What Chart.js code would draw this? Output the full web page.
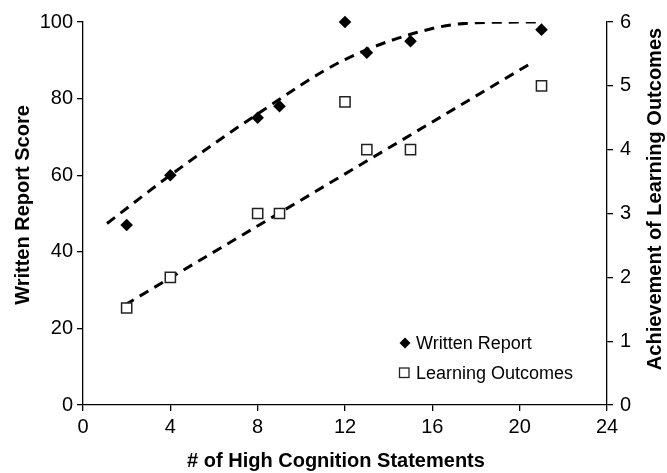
<!DOCTYPE html>
<html>
<head>
<meta charset="utf-8">
<script src="https://cdn.jsdelivr.net/npm/chart.js@4.4.0/dist/chart.umd.min.js"></script>
<style>
html,body{margin:0;padding:0;background:#fff;}
#wrap{width:667px;height:473px;position:relative;}
</style>
</head>
<body>
<div id="wrap"><canvas id="chart"></canvas></div>
<script>
// Values
const statements=[2,4,8,9,12,13,15,21];
const reportScore=[47,60,75,78,100,92,95,98];
const outcomeScore=[1.52,2,3,3,4.75,4,4,5];

// Trendlines, as drawn in the figure
const reportTrendX=[1.1,4,8,12,16,18,21];
const reportTrendY=[47.4,60,76,90.2,98.3,99.8,100];
const outcomeTrendX=[1.93,20.5];
const outcomeTrendY=[1.57,5.35];

// Tick labels
const xTicks=[0,4,8,12,16,20,24];
const leftTicks=[0,20,40,60,80,100];
const rightTicks=[0,1,2,3,4,5,6];
const legendLabels=['Written Report','Learning Outcomes'];
const xTitle='# of High Cognition Statements';
const leftTitle='Written Report Score';
const rightTitle='Achievement of Learning Outcomes';

const FONT='"Liberation Sans", Arial, sans-serif';
Chart.defaults.font.family=FONT;
Chart.defaults.color='#000';

function pts(xs,ys){return xs.map((x,i)=>({x:x,y:ys[i]}));}
function setTicks(list){return scale=>{scale.ticks=list.map(v=>({value:v}));};}

const axisGrid={drawOnChartArea:false,drawTicks:true,tickLength:6,color:'#000',lineWidth:1.3};
const axisBorder={display:true,color:'#000',width:1.3};

// Axis titles + legend inside the plot (drawn by hand so they sit where the figure has them)
const extras={
  id:'extras',
  afterDraw(chart){
    const ctx=chart.ctx;
    ctx.save();
    ctx.fillStyle='#000';
    ctx.textAlign='center';
    ctx.textBaseline='middle';
    ctx.font='bold 20px '+FONT;
    ctx.fillText(xTitle,336,461);
    ctx.save();ctx.translate(23,205);ctx.rotate(-Math.PI/2);ctx.fillText(leftTitle,0,0);ctx.restore();
    ctx.save();ctx.translate(655,199);ctx.rotate(-Math.PI/2);ctx.fillText(rightTitle,0,0);ctx.restore();

    // legend
    ctx.beginPath();
    ctx.moveTo(405,337.5);ctx.lineTo(410.5,343);ctx.lineTo(405,348.5);ctx.lineTo(399.5,343);
    ctx.closePath();ctx.fill();
    ctx.strokeStyle='#222';ctx.lineWidth=1.3;ctx.fillStyle='#fff';
    ctx.fillRect(399.5,368,9.5,9.5);ctx.strokeRect(399.5,368,9.5,9.5);
    ctx.fillStyle='#000';
    ctx.font='18px '+FONT;
    ctx.textAlign='left';
    ctx.fillText(legendLabels[0],416,344);
    ctx.fillText(legendLabels[1],416,374);
    ctx.restore();
  }
};

new Chart(document.getElementById('chart'),{
  type:'scatter',
  data:{
    datasets:[
      {label:legendLabels[0],data:pts(statements,reportScore),yAxisID:'y',clip:false,
       pointStyle:'rectRot',pointRadius:6.3,backgroundColor:'#000',borderColor:'#000',borderWidth:0,order:1},
      {label:legendLabels[1],data:pts(statements,outcomeScore),yAxisID:'y2',clip:false,
       pointStyle:'rect',pointRadius:7.2,backgroundColor:'#fff',borderColor:'#222',borderWidth:1.5,order:1},
      {type:'line',label:'report trend',data:pts(reportTrendX,reportTrendY),yAxisID:'y',
       showLine:true,pointRadius:0,borderColor:'#000',borderWidth:3,borderDash:[10,7],
       cubicInterpolationMode:'monotone',fill:false,order:2},
      {type:'line',label:'outcome trend',data:pts(outcomeTrendX,outcomeTrendY),yAxisID:'y2',
       showLine:true,pointRadius:0,borderColor:'#000',borderWidth:3,borderDash:[10,7],fill:false,order:2}
    ]
  },
  options:{
    responsive:true,
    maintainAspectRatio:false,
    animation:false,
    layout:{padding:{top:22,left:0,right:0,bottom:0}},
    plugins:{legend:{display:false},tooltip:{enabled:false}},
    scales:{
      x:{
        type:'linear',min:0,max:24,
        afterBuildTicks:setTicks(xTicks),
        afterFit:s=>{s.height=68;},
        grid:axisGrid,border:axisBorder,
        ticks:{font:{size:20},padding:4,maxRotation:0}
      },
      y:{
        type:'linear',position:'left',min:0,max:100,
        afterBuildTicks:setTicks(leftTicks),
        afterFit:s=>{s.width=83;},
        grid:axisGrid,border:axisBorder,
        ticks:{font:{size:20},padding:4}
      },
      y2:{
        type:'linear',position:'right',min:0,max:6,
        afterBuildTicks:setTicks(rightTicks),
        afterFit:s=>{s.width=60;},
        grid:axisGrid,border:axisBorder,
        ticks:{font:{size:20},padding:7}
      }
    }
  },
  plugins:[extras]
});
</script>
</body>
</html>
